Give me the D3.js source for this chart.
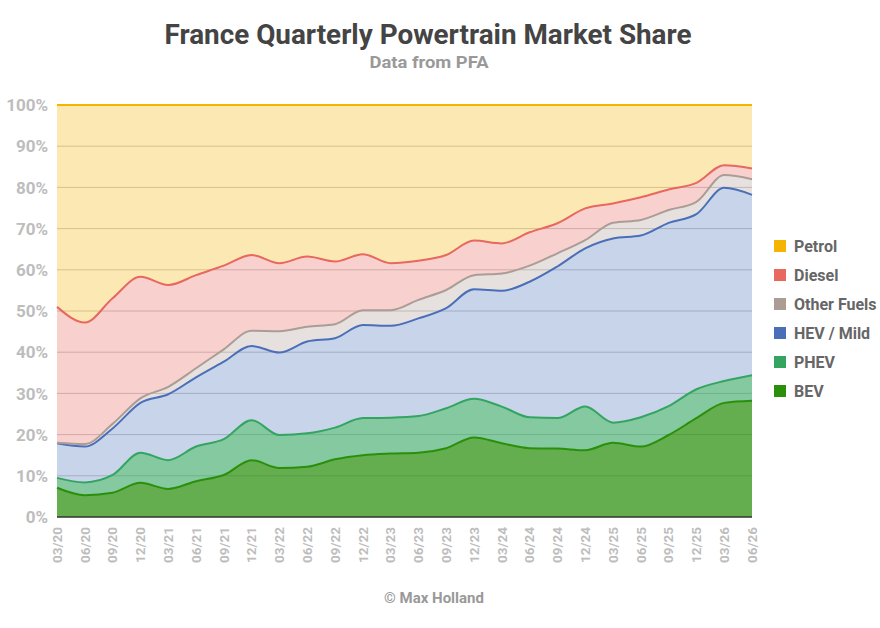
<!DOCTYPE html>
<html>
<head>
<meta charset="utf-8">
<script src="https://cdn.jsdelivr.net/npm/d3@7"></script>
<style>
  body { margin: 0; background: #fff; font-family: Roboto, "Noto Sans", sans-serif; }
  svg { display: block; }
</style>
</head>
<body>
<div id="chart"></div>
<script>
const quarters = ["03/20", "06/20", "09/20", "12/20", "03/21", "06/21", "09/21", "12/21",
  "03/22", "06/22", "09/22", "12/22", "03/23", "06/23", "09/23", "12/23",
  "03/24", "06/24", "09/24", "12/24", "03/25", "06/25", "09/25", "12/25", "03/26", "06/26"];

// shares in % per quarter
const bev = [7.1, 5.3, 5.9, 8.3, 6.8, 8.7, 10.2, 13.8, 11.9, 12.2, 14.0, 15.0, 15.4,
  15.6, 16.7, 19.3, 17.9, 16.7, 16.6, 16.2, 18.0, 17.1, 19.9, 24.0, 27.7, 28.2];
const phev = [2.4, 3.1, 4.3, 7.3, 7.0, 8.4, 8.7, 9.7, 8.0, 8.1, 7.7, 9.0, 8.7,
  8.9, 9.7, 9.4, 8.9, 7.5, 7.4, 10.6, 4.9, 7.1, 7.0, 7.0, 5.3, 6.2];
const hev = [8.4, 8.7, 11.3, 12.1, 16.0, 16.8, 18.8, 18.0, 20.0, 22.3, 21.7, 22.6, 22.3,
  23.7, 24.3, 26.6, 28.1, 32.9, 36.8, 38.4, 44.7, 44.1, 44.5, 42.5, 46.9, 43.8];
const otherFuels = [0.1, 0.6, 1.1, 1.1, 1.8, 2.2, 3.0, 3.7, 5.2, 3.6, 3.4, 3.6, 3.8,
  4.5, 4.4, 3.4, 4.2, 3.9, 3.2, 2.0, 3.8, 3.8, 3.1, 3.0, 3.1, 3.8];
const diesel = [33.0, 29.5, 30.5, 29.5, 24.7, 22.6, 20.3, 18.4, 16.5, 17.0, 15.2, 13.6, 11.4,
  9.5, 8.5, 8.4, 7.3, 8.1, 7.3, 7.7, 4.7, 5.5, 5.0, 4.6, 2.4, 2.6];
const petrol = [49.0, 52.8, 46.9, 41.7, 43.7, 41.3, 39.0, 36.4, 38.4, 36.8, 38.0, 36.2, 38.4,
  37.8, 36.4, 32.9, 33.6, 30.9, 28.7, 25.1, 23.9, 22.4, 20.5, 18.9, 14.6, 15.4];

const yTicks = [0, 10, 20, 30, 40, 50, 60, 70, 80, 90, 100];

// bottom to top
const seriesDefs = [
  { key: "BEV", values: bev, color: "#2a8f0b", opacity: 0.72 },
  { key: "PHEV", values: phev, color: "#34a561", opacity: 0.6 },
  { key: "HEV / Mild", values: hev, color: "#4a6fb8", opacity: 0.3 },
  { key: "Other Fuels", values: otherFuels, color: "#ab9c96", opacity: 0.3 },
  { key: "Diesel", values: diesel, color: "#e8675f", opacity: 0.3 },
  { key: "Petrol", values: petrol, color: "#f4b400", opacity: 0.3 }
];

const table = quarters.map((q, i) => {
  const row = { quarter: q };
  seriesDefs.forEach(s => { row[s.key] = s.values[i]; });
  return row;
});

const width = 880, height = 628;
const margin = { top: 105, right: 128, bottom: 111, left: 57 };

const svg = d3.select("#chart").append("svg")
  .attr("width", width)
  .attr("height", height);

const x = d3.scalePoint()
  .domain(quarters)
  .range([margin.left, width - margin.right]);

const y = d3.scaleLinear()
  .domain([0, 100])
  .range([height - margin.bottom, margin.top]);

// titles
svg.append("text")
  .attr("x", 428).attr("y", 44)
  .attr("text-anchor", "middle")
  .attr("font-size", 28).attr("font-weight", 700)
  .attr("fill", "#444")
  .attr("textLength", 527).attr("lengthAdjust", "spacingAndGlyphs")
  .text("France Quarterly Powertrain Market Share");

svg.append("text")
  .attr("x", 429).attr("y", 68)
  .attr("text-anchor", "middle")
  .attr("font-size", 16).attr("font-weight", 700)
  .attr("fill", "#999")
  .attr("textLength", 119).attr("lengthAdjust", "spacingAndGlyphs")
  .text("Data from PFA");

// grid
svg.append("g")
  .selectAll("line")
  .data(yTicks.filter(t => t > 0 && t < 100))
  .join("line")
  .attr("x1", margin.left).attr("x2", width - margin.right)
  .attr("y1", d => y(d)).attr("y2", d => y(d))
  .attr("stroke", "#c8c8c8").attr("stroke-width", 1);

// stacked areas
const stack = d3.stack().keys(seriesDefs.map(s => s.key));
const layers = stack(table);

const area = d3.area()
  .x(d => x(d.data.quarter))
  .y0(d => y(d[0]))
  .y1(d => y(d[1]))
  .curve(d3.curveMonotoneX);

const topLine = d3.line()
  .x(d => x(d.data.quarter))
  .y(d => y(d[1]))
  .curve(d3.curveMonotoneX);

layers.forEach((layer, i) => {
  const s = seriesDefs[i];
  svg.append("path")
    .datum(layer)
    .attr("d", area)
    .attr("fill", s.color)
    .attr("fill-opacity", s.opacity);
});

layers.forEach((layer, i) => {
  const s = seriesDefs[i];
  svg.append("path")
    .datum(layer)
    .attr("d", topLine)
    .attr("fill", "none")
    .attr("stroke", s.color)
    .attr("stroke-width", 2);
});

// baseline
svg.append("line")
  .attr("x1", margin.left).attr("x2", width - margin.right)
  .attr("y1", y(0)).attr("y2", y(0))
  .attr("stroke", "#333").attr("stroke-width", 1.5);

// y labels
svg.append("g")
  .selectAll("text")
  .data(yTicks)
  .join("text")
  .attr("x", 48)
  .attr("y", d => y(d))
  .attr("dy", "0.36em")
  .attr("text-anchor", "end")
  .attr("font-size", 17).attr("font-weight", 700)
  .attr("fill", "#bdbdbd")
  .text(d => d + "%");

// x labels
svg.append("g")
  .selectAll("text")
  .data(quarters)
  .join("text")
  .attr("transform", d => `translate(${x(d)},${y(0) + 10}) rotate(-90)`)
  .attr("dy", "0.36em")
  .attr("text-anchor", "end")
  .attr("font-size", 13.5).attr("font-weight", 700)
  .attr("fill", "#bdbdbd")
  .text(d => d);

// legend
const legend = svg.append("g")
  .attr("transform", "translate(774,246)");

seriesDefs.slice().reverse().forEach((s, i) => {
  const row = legend.append("g")
    .attr("transform", `translate(0,${i * 29})`);
  row.append("rect")
    .attr("x", 0).attr("y", -6)
    .attr("width", 12).attr("height", 12)
    .attr("fill", s.color);
  row.append("text")
    .attr("x", 20).attr("y", 0)
    .attr("dy", "0.36em")
    .attr("font-size", 16).attr("font-weight", 700)
    .attr("fill", "#666")
    .text(s.key);
});

// footer
svg.append("text")
  .attr("x", 434).attr("y", 603)
  .attr("text-anchor", "middle")
  .attr("font-size", 15).attr("font-weight", 700)
  .attr("fill", "#999")
  .text("© Max Holland");
</script>
</body>
</html>
